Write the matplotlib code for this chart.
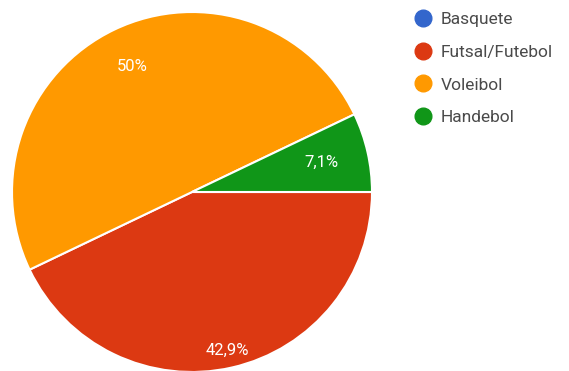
import matplotlib
matplotlib.use('Agg')
import numpy as np
from matplotlib import pyplot as plt
from matplotlib.lines import Line2D

plt.rcParams['font.family'] = ['Roboto', 'DejaVu Sans']

sports = ['Basquete', 'Futsal/Futebol', 'Voleibol', 'Handebol']
shares = [0.0, 42.9, 50.0, 7.1]
pct_labels = ['', '42,9%', '50%', '7,1%']
colors = ['#3366cc', '#dc3912', '#ff9900', '#109618']
# radial position of each percentage label (fraction of radius)
label_dist = [0.7, 0.9, 0.77, 0.74]

W, H = 569, 371
fig = plt.figure(figsize=(W / 100, H / 100), dpi=100)
cx, cy, r = 192, 192, 180
ax = fig.add_axes([(cx - r) / W, (H - cy - r) / H, 2 * r / W, 2 * r / H])

wedges, _ = ax.pie(shares, colors=colors, startangle=0, counterclock=False,
                   radius=1, wedgeprops=dict(edgecolor='white', linewidth=1.5))
ax.set_xlim(-1, 1)
ax.set_ylim(-1, 1)
ax.set_aspect('equal')
ax.axis('off')

for w, txt, d in zip(wedges, pct_labels, label_dist):
    if not txt:
        continue
    ang = np.deg2rad((w.theta1 + w.theta2) / 2)
    ax.text(d * np.cos(ang), d * np.sin(ang), txt, color='white',
            fontsize=12, ha='center', va='center')

handles = [Line2D([], [], marker='o', linestyle='', markersize=12,
                  markerfacecolor=c, markeredgecolor=c) for c in colors]
fig.legend(handles, sports, loc='upper left',
           bbox_to_anchor=(397 / W, 1 + 4 / H), frameon=False,
           fontsize=12.5, labelspacing=1.02, handletextpad=0.4,
           handlelength=1.2, labelcolor='#4a4a4a')

fig.savefig('out.png', dpi=100)
